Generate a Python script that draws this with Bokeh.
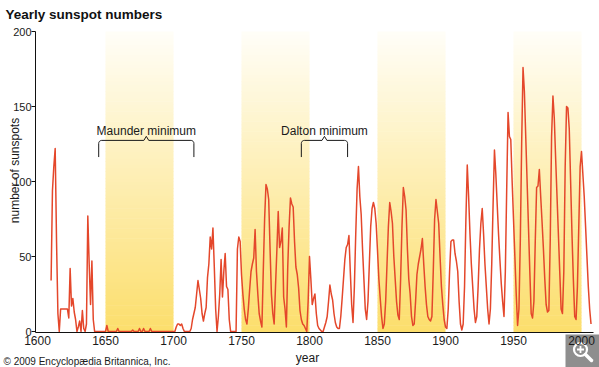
import numpy as np
from bokeh.plotting import figure
from bokeh.models import Label, Range1d, FixedTicker
from bokeh.embed import file_html
from bokeh.resources import INLINE

# ---------------- data ----------------
years = list(range(1610, 2008))
sunspots = [
    # 1610-1619
    34, 94, 110, 122, 60, 12, 0, 15, 15, 15,
    # 1620-1629
    15, 15, 15, 9, 42, 17, 22, 13, 8, 0,
    # 1630-1639
    3, 7, 0, 14, 2, 0, 5, 77, 45, 18,
    # 1640-1649
    47, 8, 0, 0, 0, 0, 0, 0, 0, 0,
    # 1650-1659
    0, 4, 0, 0, 0, 0, 0, 0, 0, 2,
    # 1660-1669
    0, 0, 0, 0, 0, 0, 0, 0, 0, 0,
    # 1670-1679
    1, 0, 0, 0, 0, 2, 0, 0, 2, 0,
    # 1680-1689
    0, 0, 0, 2, 0, 0, 0, 0, 0, 0,
    # 1690-1699
    0, 0, 0, 0, 0, 0, 0, 0, 0, 0,
    # 1700-1709
    0, 0, 3, 5, 5, 4, 5, 2, 0, 0,
    # 1710-1719
    0, 0, 0, 2, 8, 12, 16, 25, 34, 28,
    # 1720-1729
    22, 12, 7, 12, 16, 36, 45, 63, 55, 69,
    # 1730-1739
    43, 15, 0, 10, 25, 48, 23, 40, 52, 30,
    # 1740-1749
    28, 8, 0, 0, 0, 0, 0, 55, 63, 60,
    # 1750-1759
    38, 25, 15, 8, 5, 15, 28, 40, 45, 49,
    # 1760-1769
    68, 40, 25, 12, 7, 3, 40, 75, 98, 95,
    # 1770-1779
    88, 55, 25, 12, 5, 30, 54, 80, 56, 60,
    # 1780-1789
    69, 23, 15, 3, 43, 70, 89, 85, 83, 60,
    # 1790-1799
    43, 38, 29, 14, 8, 5, 4, 2, 0, 20,
    # 1800-1809
    50, 35, 18, 22, 25, 12, 4, 2, 1, 0,
    # 1810-1819
    0, 3, 6, 10, 20, 31, 25, 21, 12, 6,
    # 1820-1829
    3, 2, 2, 10, 22, 35, 48, 56, 58, 64,
    # 1830-1839
    40, 18, 6, 30, 65, 95, 110, 90, 78, 55,
    # 1840-1849
    35, 15, 8, 20, 45, 70, 82, 86, 82, 72,
    # 1850-1859
    54, 35, 22, 10, 2, 5, 20, 45, 70, 86,
    # 1860-1869
    80, 72, 50, 35, 20, 11, 8, 35, 70, 96,
    # 1870-1879
    90, 81, 55, 35, 25, 10, 4, 5, 20, 38,
    # 1880-1889
    45, 50, 55, 62, 45, 30, 18, 10, 8, 7,
    # 1890-1899
    10, 40, 75, 88, 80, 72, 50, 30, 18, 8,
    # 1900-1909
    3, 2, 15, 40, 60, 61, 61, 52, 47, 40,
    # 1910-1919
    20, 5, 1, 5, 30, 75, 111, 90, 65, 45,
    # 1920-1929
    30, 15, 6, 10, 30, 55, 72, 82, 65, 45,
    # 1930-1939
    30, 15, 5, 15, 45, 85, 121, 105, 85, 65,
    # 1940-1949
    48, 32, 20, 10, 40, 95, 146, 130, 128, 100,
    # 1950-1959
    75, 50, 25, 4, 15, 60, 125, 176, 160, 130,
    # 1960-1969
    100, 70, 40, 12, 9, 20, 60, 96, 97, 108,
    # 1970-1979
    90, 73, 55, 35, 18, 13, 14, 60, 130, 157,
    # 1980-1989
    142, 115, 90, 65, 40, 15, 12, 40, 110, 150,
    # 1990-1999
    149, 135, 100, 65, 35, 10, 8, 30, 70, 110,
    # 2000-2007
    120, 105, 90, 70, 50, 30, 15, 5,
]

band_starts = [1650, 1750, 1850, 1950]
band_ends = [1700, 1800, 1900, 2000]

minima_names = ["Maunder minimum", "Dalton minimum"]
minima_start = [1645, 1794]
minima_end = [1715, 1828]

x_ticks = [1600, 1650, 1700, 1750, 1800, 1850, 1900, 1950, 2000]
y_ticks = [0, 50, 100, 150, 200]

title_text = "Yearly sunspot numbers"
y_label_text = "number of sunspots"
x_label_text = "year"
credit_text = "\u00a9 2009 Encyclop\u00e6dia Britannica, Inc."

# ---------------- geometry / styles ----------------
W, H = 599, 367
FONT = "Liberation Sans"
LINE_COLOR = "#e4472b"
TEXT_COLOR = "#1a1a1a"

# pixel <-> data mapping of the plot area (frame fills the canvas)
PX_1600, PX_PER_YEAR = 37.0, 1.36
PY_ZERO, PX_PER_UNIT = 331.0, 1.5


def px_to_x(px):
    return 1600 + (px - PX_1600) / PX_PER_YEAR


def py_to_y(py):
    return (PY_ZERO - py) / PX_PER_UNIT


X0, X1 = px_to_x(0), px_to_x(W)
Y0, Y1 = py_to_y(H), py_to_y(0)
AXIS_X = px_to_x(35)        # position of the vertical axis line
AXIS_Y = py_to_y(332)       # position of the horizontal axis line
AXIS_X_END = px_to_x(593)
Y_MAX = 200

p = figure(width=W, height=H,
           x_range=Range1d(X0, X1), y_range=Range1d(Y0, Y1),
           output_backend="svg", toolbar_location=None,
           min_border_left=0, min_border_right=0,
           min_border_top=0, min_border_bottom=0)
p.outline_line_color = None
p.xgrid.visible = False
p.ygrid.visible = False
p.background_fill_color = "white"
p.border_fill_color = "white"

# ---------------- gradient bands ----------------
n_strips = 90
edges = np.linspace(AXIS_Y, Y_MAX, n_strips + 1)
bottom_rgb = np.array([252, 222, 108])
top_rgb = np.array([255, 254, 248])
lefts, rights, bottoms, tops, colors = [], [], [], [], []
for s, e in zip(band_starts, band_ends):
    for i in range(n_strips):
        t = (i + 0.5) / n_strips
        rgb = bottom_rgb + (top_rgb - bottom_rgb) * t
        lefts.append(s)
        rights.append(e)
        bottoms.append(edges[i])
        tops.append(min(edges[i + 1] + 0.4, Y_MAX))
        colors.append("#%02x%02x%02x" % tuple(int(round(c)) for c in rgb))
p.quad(left=lefts, right=rights, bottom=bottoms, top=tops,
       fill_color=colors, line_color=None)

# ---------------- data line ----------------
p.line(years, sunspots, line_color=LINE_COLOR, line_width=1.5,
       line_join="round")

# ---------------- minimum brackets ----------------
Y_TOP, Y_BOT, Y_TIP = 127.4, 116.3, 130.1
DX, DY = 2.2, 2.0
TIP_W = 1.8
th = np.linspace(0, np.pi / 2, 7)
for name, a, b in zip(minima_names, minima_start, minima_end):
    xc = (a + b) / 2
    lx = list(a + DX - DX * np.cos(th))
    ly = list(Y_TOP - DY + DY * np.sin(th))
    rx = list(b - DX + DX * np.sin(th))
    ry = list(Y_TOP - DY + DY * np.cos(th))
    xs = [a] + lx + [xc - TIP_W, xc, xc + TIP_W] + rx + [b]
    ys = [Y_BOT] + ly + [Y_TOP, Y_TIP, Y_TOP] + ry + [Y_BOT]
    p.line(xs, ys, line_color=TEXT_COLOR, line_width=1, line_join="round")
    p.add_layout(Label(x=xc, y=133.4, text=name, text_align="center",
                       text_baseline="alphabetic", text_font=FONT,
                       text_font_size="12px", text_color=TEXT_COLOR))

# ---------------- zoom badge (bottom-right corner of the reference) ----------------
p.quad(left=[px_to_x(565)], right=[px_to_x(W + 2)], bottom=[py_to_y(H + 2)],
       top=[py_to_y(334)], fill_color="#7a7a7a", fill_alpha=0.85,
       line_color=None)
p.scatter([px_to_x(580)], [py_to_y(349)], marker="circle", size=13,
          fill_color=None, line_color="white", line_width=2.2)
p.scatter([px_to_x(580)], [py_to_y(349)], marker="cross", size=7,
          line_color="white", line_width=1.8)
p.line([px_to_x(585), px_to_x(591)], [py_to_y(354), py_to_y(360)],
       line_color="white", line_width=3.5, line_cap="round")

# ---------------- axes (library axes, pinned inside the canvas) ----------------
for ax in (p.xaxis[0], p.yaxis[0]):
    ax.axis_line_color = "#111111"
    ax.axis_line_width = 1
    ax.minor_tick_line_color = None
    ax.major_label_text_font = FONT
    ax.major_label_text_color = TEXT_COLOR
    ax.major_tick_line_color = "#111111"

p.xaxis.ticker = FixedTicker(ticks=x_ticks)
p.xaxis.fixed_location = AXIS_Y
p.xaxis.bounds = (AXIS_X, AXIS_X_END)
p.xaxis.major_tick_out = 0
p.xaxis.major_tick_in = 0
p.xaxis.major_label_standoff = 3
p.xaxis.major_label_text_font_size = "12px"

p.yaxis.ticker = FixedTicker(ticks=y_ticks)
p.yaxis.fixed_location = AXIS_X
p.yaxis.bounds = (AXIS_Y, Y_MAX)
p.yaxis.major_tick_out = 4
p.yaxis.major_tick_in = 0
p.yaxis.major_label_standoff = 0
p.yaxis.major_label_text_font_size = "11px"

# ---------------- texts ----------------
p.add_layout(Label(x=px_to_x(5), y=py_to_y(14), text=title_text,
                   text_align="left", text_baseline="alphabetic",
                   text_font=FONT, text_font_size="13.5px",
                   text_font_style="bold", text_color="#111111"))
p.add_layout(Label(x=px_to_x(14.5), y=py_to_y(170), text=y_label_text,
                   angle=np.pi / 2, text_align="center",
                   text_baseline="alphabetic", text_font=FONT,
                   text_font_size="12px", text_color=TEXT_COLOR))
p.add_layout(Label(x=px_to_x(307), y=py_to_y(357), text=x_label_text,
                   text_align="center", text_baseline="alphabetic",
                   text_font=FONT, text_font_size="12px",
                   text_color=TEXT_COLOR))
p.add_layout(Label(x=px_to_x(3), y=py_to_y(361), text=credit_text,
                   text_align="left", text_baseline="alphabetic",
                   text_font=FONT, text_font_size="10px",
                   text_color=TEXT_COLOR))

open("out.html", "w").write(file_html(p, INLINE))
